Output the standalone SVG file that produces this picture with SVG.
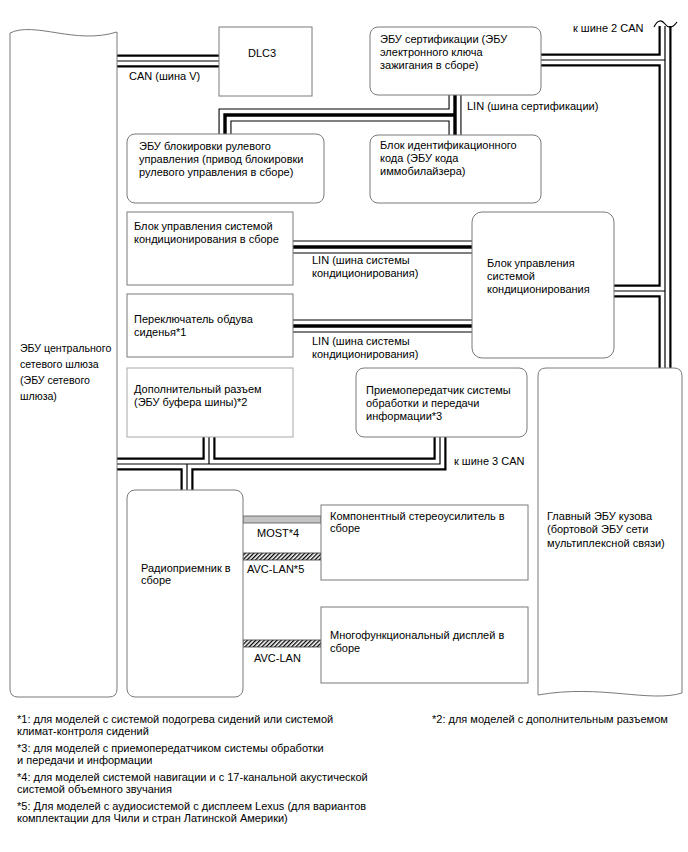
<svg xmlns="http://www.w3.org/2000/svg" width="688" height="852" viewBox="0 0 688 852">
<style>
text{font-family:"Liberation Sans",Arial,sans-serif;font-size:11px;fill:#000}
.sm{font-size:10.6px}
.box{fill:#fff;stroke:#7a7a7a;stroke-width:1}
.lt{stroke:#a8a8a8}
.o{fill:none;stroke:#000;stroke-width:13}
.cw{fill:none;stroke:#fff;stroke-width:8.6}
.ci{fill:none;stroke:#000;stroke-width:1.2}
.lw{fill:none;stroke:#fff;stroke-width:10.8}
.li{fill:none;stroke:#000;stroke-width:3.4}
</style>
<defs>
<pattern id="hatch" width="3" height="3" patternUnits="userSpaceOnUse" patternTransform="rotate(45)"><rect width="1.3" height="3" fill="#000"/></pattern>
<path id="canv" d="M117,61 H219"/>
<path id="can2" d="M665,25 V368 M541,60 H665 M614,291 H665"/>
<path id="can3" d="M117,464 H440 V437 M209,437 V464 M187,464 V490"/>
<path id="lincert" d="M455,95 V135 M455,115 H225 V134"/>
<path id="linac1" d="M293,247 H472"/>
<path id="linac2" d="M293,326 H472"/>
</defs>
<rect width="688" height="852" fill="#fff"/>

<g id="connectors">
<use href="#canv" class="o"/><use href="#canv" class="cw"/><use href="#canv" class="ci"/>
<use href="#can2" class="o"/><use href="#can2" class="cw"/><use href="#can2" class="ci"/>
<use href="#can3" class="o"/><use href="#can3" class="cw"/><use href="#can3" class="ci"/>
<use href="#lincert" class="o"/><use href="#lincert" class="lw"/><use href="#lincert" class="li"/>
<use href="#linac1" class="o"/><use href="#linac1" class="lw"/><use href="#linac1" class="li"/>
<use href="#linac2" class="o"/><use href="#linac2" class="lw"/><use href="#linac2" class="li"/>
<rect x="657" y="18" width="20" height="8" fill="#fff"/>
<path d="M654,27 C658,19 662,20 665,24 C668,28 672,29 677,22" fill="none" stroke="#000" stroke-width="1.2"/>
<rect x="243" y="516" width="78" height="7" fill="#c4c4c4" stroke="#555" stroke-width="0.8"/>
<rect x="243" y="553" width="78" height="7" fill="url(#hatch)" stroke="#333" stroke-width="0.8"/>
<rect x="243" y="640" width="78" height="7" fill="url(#hatch)" stroke="#333" stroke-width="0.8"/>
<text x="129" y="80">CAN (шина V)</text>
<text x="573" y="32">к шине 2 CAN</text>
<text x="467" y="110">LIN (шина сертификации)</text>
<text x="312" y="264">LIN (шина системы</text>
<text x="312" y="277">кондиционирования)</text>
<text x="312" y="345">LIN (шина системы</text>
<text x="312" y="358">кондиционирования)</text>
<text x="454" y="465">к шине 3 CAN</text>
<text x="257" y="537">MOST*4</text>
<text x="247" y="573">AVC-LAN*5</text>
<text x="254" y="662">AVC-LAN</text>
</g>

<g id="gateway">
<path class="box" d="M10,33 C35,21 75,45 117,32 V689 Q117,697 109,697 H18 Q10,697 10,689 Z"/>
<text class="sm" x="20" y="352">ЭБУ центрального</text>
<text class="sm" x="20" y="368">сетевого шлюза</text>
<text class="sm" x="20" y="384">(ЭБУ сетевого</text>
<text class="sm" x="20" y="400">шлюза)</text>
</g>

<g id="dlc3">
<rect class="box" x="219" y="27" width="93" height="69"/>
<text x="248" y="57">DLC3</text>
</g>

<g id="cert">
<rect class="box" x="370" y="27" width="171" height="68" rx="8"/>
<text x="380" y="43">ЭБУ сертификации (ЭБУ</text>
<text x="380" y="56">электронного ключа</text>
<text x="380" y="69">зажигания в сборе)</text>
</g>

<g id="steer">
<rect class="box" x="127" y="134" width="197" height="69" rx="8"/>
<text x="139" y="150">ЭБУ блокировки рулевого</text>
<text x="139" y="163">управления (привод блокировки</text>
<text x="139" y="176">рулевого управления в сборе)</text>
</g>

<g id="immo">
<rect class="box" x="370" y="135" width="171" height="68" rx="8"/>
<text x="380" y="149">Блок идентификационного</text>
<text x="380" y="162">кода (ЭБУ кода</text>
<text x="380" y="175">иммобилайзера)</text>
</g>

<g id="ac_assy">
<rect class="box" x="127" y="212" width="166" height="73"/>
<text x="134" y="230">Блок управления системой</text>
<text x="134" y="243">кондиционирования в сборе</text>
</g>

<g id="seat">
<rect class="box" x="127" y="294" width="166" height="63"/>
<text x="134" y="323">Переключатель обдува</text>
<text x="134" y="336">сиденья*1</text>
</g>

<g id="ext">
<rect class="box lt" x="127" y="368" width="166" height="69"/>
<text x="134" y="393">Дополнительный разъем</text>
<text x="134" y="406">(ЭБУ буфера шины)*2</text>
</g>

<g id="tx">
<rect class="box" x="356" y="368" width="171" height="69" rx="8"/>
<text x="366" y="394">Приемопередатчик системы</text>
<text x="366" y="407">обработки и передачи</text>
<text x="366" y="420">информации*3</text>
</g>

<g id="ac_ctrl">
<rect class="box" x="472" y="212" width="142" height="146" rx="10"/>
<text x="487" y="267">Блок управления</text>
<text x="487" y="280">системой</text>
<text x="487" y="293">кондиционирования</text>
</g>

<g id="body">
<path class="box" d="M538,376 Q538,368 546,368 H674 Q682,368 682,376 V693 C650,703 600,684 538,695 Z"/>
<text x="547" y="520">Главный ЭБУ кузова</text>
<text x="547" y="533">(бортовой ЭБУ сети</text>
<text x="547" y="547">мультиплексной связи)</text>
</g>

<g id="radio">
<rect class="box" x="127" y="490" width="116" height="207" rx="8"/>
<text x="141" y="572">Радиоприемник в</text>
<text x="141" y="584">сборе</text>
</g>

<g id="amp">
<rect class="box" x="321" y="505" width="207" height="75"/>
<text x="330" y="520">Компонентный стереоусилитель в</text>
<text x="330" y="532">сборе</text>
</g>

<g id="display">
<rect class="box" x="321" y="607" width="207" height="76"/>
<text x="330" y="639">Многофункциональный дисплей в</text>
<text x="330" y="652">сборе</text>
</g>

<g id="notes">
<text x="17" y="723">*1: для моделей с системой подогрева сидений или системой</text>
<text x="17" y="735">климат-контроля сидений</text>
<text x="17" y="752">*3: для моделей с приемопередатчиком системы обработки</text>
<text x="17" y="764">и передачи и информации</text>
<text x="17" y="781">*4: для моделей системой навигации и с 17-канальной акустической</text>
<text x="17" y="793">системой объемного звучания</text>
<text x="17" y="810">*5: Для моделей с аудиосистемой с дисплеем Lexus (для вариантов</text>
<text x="17" y="822">комплектации для Чили и стран Латинской Америки)</text>
<text x="432" y="723">*2: для моделей с дополнительным разъемом</text>
</g>
</svg>
